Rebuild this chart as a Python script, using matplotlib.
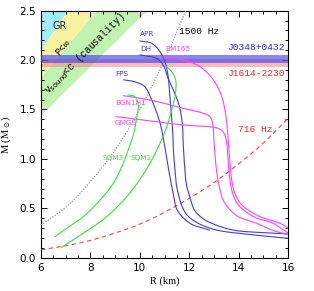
import matplotlib
matplotlib.use("Agg")
import numpy as np
import matplotlib.pyplot as plt
from matplotlib.ticker import MultipleLocator

# ---------------- data ----------------
# constraint region boundary lines (R in km, M in Msun)
gr_R, gr_M = [6.0, 7.1], [2.1, 2.5]
buch_R, buch_M = [6.0, 8.27], [1.82, 2.5]
caus_R, caus_M = [6.0, 10.3], [1.44, 2.5]

# pulsar mass bands (centre, half width)
j0348 = (2.01, 0.04)
j1614 = (1.97, 0.04)

# spin-frequency mass-shedding lines
f1500_R = [6.0, 7.0, 8.0, 9.0, 10.0, 11.0, 11.86]
f1500_M = [0.33, 0.51, 0.77, 1.09, 1.50, 2.00, 2.50]
f716_R = [6.0, 7.0, 8.0, 9.0, 10.0, 11.0, 12.0, 13.0, 14.0, 15.0, 16.0]
f716_M = [0.08, 0.12, 0.175, 0.25, 0.34, 0.46, 0.60, 0.76, 0.95, 1.16, 1.41]

# EOS curves
apr_R = [10.01, 10.48, 10.82, 11.02, 11.14, 11.20, 11.26, 11.33, 11.36, 11.40, 11.47, 11.55, 11.69, 11.91, 12.37, 13.11, 14.46, 16.0]
apr_M = [2.193, 2.170, 2.085, 1.981, 1.849, 1.687, 1.495, 1.293, 1.090, 0.958, 0.756, 0.655, 0.533, 0.432, 0.348, 0.280, 0.235, 0.196]
dh_R = [10.01, 10.68, 10.95, 11.14, 11.38, 11.59, 11.72, 11.76, 11.81, 11.89, 12.03, 12.21, 12.52, 12.91, 13.77, 14.87, 16.0]
dh_M = [2.052, 2.018, 1.950, 1.819, 1.687, 1.545, 1.360, 1.141, 0.938, 0.736, 0.614, 0.483, 0.402, 0.348, 0.280, 0.255, 0.240]
fps_R = [9.35, 9.81, 10.21, 10.41, 10.62, 10.82, 10.98, 11.10, 11.22, 11.32, 11.38, 11.51, 12.03, 12.81]
fps_M = [1.80, 1.78, 1.73, 1.637, 1.512, 1.363, 1.171, 0.989, 0.817, 0.685, 0.614, 0.483, 0.348, 0.280]

bm165_R = [10.89, 11.76, 12.44, 12.98, 13.32, 13.49, 13.58, 13.65, 13.72, 13.85, 14.13, 14.87, 15.68, 16.0]
bm165_M = [2.034, 2.001, 1.933, 1.799, 1.630, 1.427, 1.191, 0.955, 0.786, 0.652, 0.533, 0.415, 0.348, 0.300]
bgn_R = [9.33, 10.41, 11.76, 12.57, 12.84, 12.95, 13.00, 13.06, 13.13, 13.23, 13.37, 13.60, 13.99, 14.73, 15.40, 16.0]
bgn_M = [1.64, 1.596, 1.512, 1.462, 1.427, 1.360, 1.191, 0.989, 0.837, 0.705, 0.584, 0.500, 0.415, 0.348, 0.275, 0.235]
gmgs_R = [9.06, 10.41, 11.76, 12.98, 13.25, 13.41, 13.52, 13.58, 13.65, 13.76, 13.99, 14.60, 15.40, 16.0]
gmgs_M = [1.427, 1.384, 1.343, 1.320, 1.300, 1.259, 1.158, 0.955, 0.786, 0.652, 0.533, 0.415, 0.348, 0.250]

sqm3_R = [6.57, 7.04, 7.71, 8.39, 8.93, 9.33, 9.60, 9.74, 9.87, 9.94, 9.81, 9.53]
sqm3_M = [0.213, 0.298, 0.415, 0.584, 0.753, 0.955, 1.140, 1.242, 1.410, 1.546, 1.630, 1.647]
sqm1_R = [6.84, 7.71, 8.66, 9.47, 10.00, 10.41, 10.82, 11.09, 11.29, 11.45, 11.45, 11.30, 11.09]
sqm1_M = [0.105, 0.247, 0.415, 0.617, 0.790, 0.955, 1.158, 1.326, 1.495, 1.677, 1.800, 1.880, 1.933]


def smooth(R, M, n=16):
    """Centripetal Catmull-Rom rendering through the read points (drawing only)."""
    P = np.column_stack([np.asarray(R, float) * 24.7, np.asarray(M, float) * 98.8])
    P = np.vstack([2 * P[0] - P[1], P, 2 * P[-1] - P[-2]])
    out = []
    for i in range(1, len(P) - 2):
        p0, p1, p2, p3 = P[i - 1], P[i], P[i + 1], P[i + 2]
        t0 = 0.0
        t1 = t0 + np.linalg.norm(p1 - p0) ** 0.5 + 1e-9
        t2 = t1 + np.linalg.norm(p2 - p1) ** 0.5 + 1e-9
        t3 = t2 + np.linalg.norm(p3 - p2) ** 0.5 + 1e-9
        t = np.linspace(t1, t2, n, endpoint=False)[:, None]
        a1 = (t1 - t) / (t1 - t0) * p0 + (t - t0) / (t1 - t0) * p1
        a2 = (t2 - t) / (t2 - t1) * p1 + (t - t1) / (t2 - t1) * p2
        a3 = (t3 - t) / (t3 - t2) * p2 + (t - t2) / (t3 - t2) * p3
        b1 = (t2 - t) / (t2 - t0) * a1 + (t - t0) / (t2 - t0) * a2
        b2 = (t3 - t) / (t3 - t1) * a2 + (t - t1) / (t3 - t1) * a3
        c = (t2 - t) / (t2 - t1) * b1 + (t - t1) / (t2 - t1) * b2
        out.append(c)
    out.append(P[-2][None, :])
    C = np.vstack(out)
    return C[:, 0] / 24.7, C[:, 1] / 98.8


# ---------------- plotting ----------------
W, H = 314, 291
fig = plt.figure(figsize=(W / 100, H / 100), dpi=100)
ax = fig.add_axes([41 / W, 1 - 257.7 / H, (288 - 41) / W, (257.7 - 10.7) / H])

c_cyan = "#a0eefa"
c_yel = "#f7f1a0"
c_grn = "#c0f2b0"

ax.fill([gr_R[0], gr_R[1], gr_R[0]], [gr_M[0], gr_M[1], 2.5], color=c_cyan, lw=0, zorder=1)
ax.fill([buch_R[0], buch_R[1], gr_R[1], gr_R[0]], [buch_M[0], buch_M[1], gr_M[1], gr_M[0]],
        color=c_yel, lw=0, zorder=1)
ax.fill([caus_R[0], caus_R[1], buch_R[1], buch_R[0]], [caus_M[0], caus_M[1], buch_M[1], buch_M[0]],
        color=c_grn, lw=0, zorder=1)

ax.axhspan(j1614[0] - j1614[1], j1614[0] + j1614[1], color="#ff8080", alpha=0.55, lw=0, zorder=2)
ax.axhspan(j0348[0] - j0348[1], j0348[0] + j0348[1], color="#4040f0", alpha=0.62, lw=0, zorder=3)

ax.plot(*smooth(f1500_R, f1500_M), color="#888888", ls=(0, (1, 1.5)), lw=0.8, zorder=4)
ax.plot(*smooth(f716_R, f716_M), color="#ff4040", ls=(0, (4, 3)), lw=0.8, zorder=4)

blue = "#3c3cf0"
mag = "#ff40ff"
grn = "#30e830"
for R, M, c in [(apr_R, apr_M, blue), (dh_R, dh_M, blue), (fps_R, fps_M, blue),
                (bm165_R, bm165_M, mag), (bgn_R, bgn_M, mag), (gmgs_R, gmgs_M, mag),
                (sqm3_R, sqm3_M, grn), (sqm1_R, sqm1_M, grn)]:
    ax.plot(*smooth(R, M), color=c, lw=0.8, zorder=5)

lab = dict(fontsize=5.2, zorder=6)
ax.text(10.0, 2.24, "APR", color=blue, **lab)
ax.text(10.0, 2.09, "DH", color=blue, **lab)
ax.text(9.0, 1.84, "FPS", color=blue, **lab)
ax.text(11.02, 2.09, "BM165", color=mag, **lab)
ax.text(9.02, 1.545, "BGN1H1", color=mag, **lab)
ax.text(9.0, 1.343, "GMGS", color=mag, **lab)
ax.text(8.9, 0.99, "SQM3", color=grn, ha="center", **lab)
ax.text(10.05, 0.99, "SQM1", color=grn, ha="center", **lab)

mono = ["Liberation Mono", "DejaVu Sans Mono"]
ax.text(11.6, 2.29, "1500 Hz", color="black", fontsize=6.8, family=mono, va="center", zorder=6)
ax.text(15.85, 2.13, "J0348+0432", color="#2828ff", fontsize=6.8, family=mono, ha="right", va="center", zorder=6)
ax.text(15.85, 1.86, "J1614-2230", color="#ff2020", fontsize=6.8, family=mono, ha="right", va="center", zorder=6)
ax.text(13.97, 1.30, "716 Hz", color="#ff2020", fontsize=6.8, family=mono, va="center", zorder=6)

ax.text(6.45, 2.35, "GR", fontsize=7, color="#222222", va="center", zorder=6)
ax.text(6.9, 2.13, "P<\u221e", fontsize=7, family=mono, rotation=48, ha="center", va="center", zorder=6)
ax.text(7.75, 2.07, r"v$_{\rm sound}$<c (causality)", fontsize=7, family=mono, rotation=45,
        ha="center", va="center", zorder=6)

ax.set_xlim(6, 16)
ax.set_ylim(0, 2.5)
ax.xaxis.set_major_locator(MultipleLocator(2))
ax.xaxis.set_minor_locator(MultipleLocator(0.5))
ax.yaxis.set_major_locator(MultipleLocator(0.5))
ax.yaxis.set_minor_locator(MultipleLocator(0.1))
ax.tick_params(which="both", direction="in", top=True, right=True, labelsize=7.5, width=0.7)
ax.tick_params(which="major", length=4)
ax.tick_params(which="minor", length=2)
for s in ax.spines.values():
    s.set_linewidth(0.8)

ax.set_xlabel("R (km)", fontsize=7.5, family="Liberation Serif", labelpad=3)
ax.set_ylabel(r"M (M$_\odot$)", fontsize=7.5, family="Liberation Serif", labelpad=5)

fig.savefig("out.png", dpi=100)
